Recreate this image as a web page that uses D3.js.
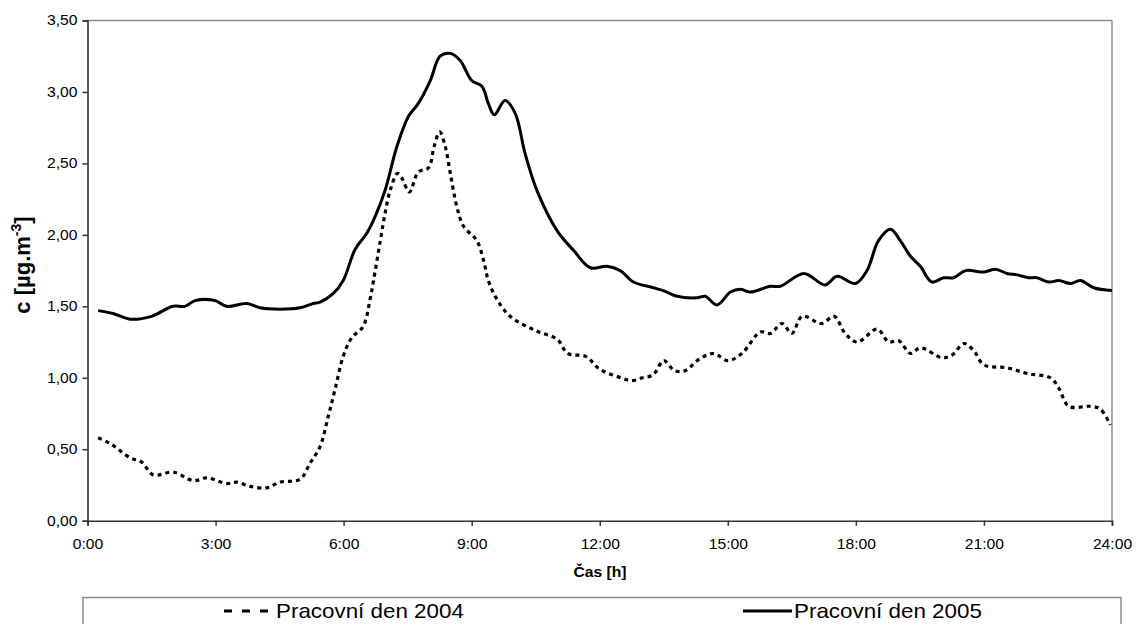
<!DOCTYPE html>
<html lang="cs">
<head>
<meta charset="utf-8">
<script src="https://d3js.org/d3.v7.min.js"></script>
<style>
  body { margin: 0; background: #fff; }
  text { font-family: "Liberation Sans", Arial, sans-serif; }
</style>
</head>
<body>
<script>
// hodiny (h) a koncentrace c [ug.m-3]
var hours2005 = [0.25, 0.6, 1.0, 1.5, 2.0, 2.28, 2.52, 2.99, 3.26, 3.73, 4.04, 4.51, 4.98, 5.29, 5.45, 5.76, 5.99, 6.27, 6.54, 6.74, 6.97, 7.25, 7.52, 7.75, 8.03, 8.26, 8.50, 8.73, 9.0, 9.24, 9.39, 9.53, 9.78, 10.02, 10.25, 10.53, 11.0, 11.39, 11.78, 12.17, 12.48, 12.79, 13.26, 13.57, 13.81, 14.28, 14.47, 14.75, 15.06, 15.29, 15.53, 16.0, 16.23, 16.78, 17.28, 17.56, 17.99, 18.26, 18.53, 18.81, 19.04, 19.28, 19.51, 19.78, 20.06, 20.29, 20.57, 21.0, 21.27, 21.54, 21.78, 22.05, 22.24, 22.52, 22.75, 23.03, 23.26, 23.57, 24.0];
var values2005 = [1.47, 1.45, 1.41, 1.43, 1.50, 1.50, 1.54, 1.54, 1.50, 1.52, 1.49, 1.48, 1.49, 1.52, 1.53, 1.59, 1.68, 1.90, 2.01, 2.13, 2.31, 2.62, 2.83, 2.92, 3.08, 3.25, 3.27, 3.22, 3.08, 3.04, 2.92, 2.84, 2.94, 2.85, 2.57, 2.31, 2.03, 1.89, 1.77, 1.78, 1.75, 1.67, 1.63, 1.60, 1.57, 1.56, 1.57, 1.51, 1.60, 1.62, 1.60, 1.64, 1.64, 1.73, 1.65, 1.71, 1.66, 1.75, 1.96, 2.04, 1.96, 1.85, 1.78, 1.67, 1.70, 1.70, 1.75, 1.74, 1.76, 1.73, 1.72, 1.70, 1.70, 1.67, 1.68, 1.66, 1.68, 1.63, 1.61];

var hours2004 = [0.25, 0.53, 1.0, 1.27, 1.54, 2.01, 2.48, 2.79, 3.26, 3.50, 3.81, 4.20, 4.51, 4.98, 5.21, 5.45, 5.64, 5.80, 5.99, 6.19, 6.46, 6.62, 6.70, 6.86, 6.97, 7.09, 7.26, 7.36, 7.54, 7.75, 7.99, 8.12, 8.25, 8.38, 8.50, 8.65, 8.81, 9.12, 9.28, 9.39, 9.59, 9.90, 10.5, 11.0, 11.25, 11.67, 12.0, 12.5, 12.75, 13.0, 13.25, 13.5, 13.75, 14.0, 14.33, 14.67, 15.0, 15.33, 15.76, 16.0, 16.27, 16.50, 16.74, 17.20, 17.49, 17.75, 18.03, 18.50, 18.77, 19.0, 19.28, 19.51, 20.02, 20.26, 20.53, 20.76, 21.0, 21.54, 22.01, 22.56, 22.75, 22.99, 23.50, 23.73, 23.96];
var values2004 = [0.58, 0.54, 0.44, 0.41, 0.32, 0.34, 0.28, 0.30, 0.26, 0.27, 0.24, 0.23, 0.27, 0.29, 0.40, 0.52, 0.73, 0.92, 1.15, 1.28, 1.36, 1.55, 1.68, 1.96, 2.15, 2.31, 2.43, 2.40, 2.30, 2.44, 2.47, 2.62, 2.72, 2.62, 2.43, 2.20, 2.06, 1.96, 1.82, 1.68, 1.55, 1.43, 1.33, 1.27, 1.17, 1.15, 1.06, 1.00, 0.98, 1.00, 1.02, 1.12, 1.05, 1.05, 1.13, 1.17, 1.12, 1.17, 1.32, 1.31, 1.38, 1.31, 1.43, 1.38, 1.43, 1.31, 1.25, 1.34, 1.25, 1.26, 1.17, 1.21, 1.14, 1.16, 1.24, 1.19, 1.09, 1.07, 1.03, 1.00, 0.93, 0.80, 0.80, 0.78, 0.67];

var xTicks = [0, 3, 6, 9, 12, 15, 18, 21, 24];
var yTicks = [0, 0.5, 1, 1.5, 2, 2.5, 3, 3.5];
var seriesNames = ["Pracovní den 2004", "Pracovní den 2005"];

var W = 1136, H = 624;
var plotLeft = 87.5, plotRight = 1112, plotTop = 20.5, plotBottom = 520.7;
var sx = 1.12; // vodorovne roztazeni pisma

var svg = d3.select("body").append("svg").attr("width", W).attr("height", H);

var x = d3.scaleLinear().domain([0, 24]).range([plotLeft, plotRight]);
var y = d3.scaleLinear().domain([0, 3.5]).range([plotBottom, plotTop]);

// ramecek grafu (horni a prava hrana sediva)
svg.append("line").attr("x1", plotLeft).attr("x2", plotRight).attr("y1", plotTop).attr("y2", plotTop)
  .attr("stroke", "#8c8c8c").attr("stroke-width", 1.5);
svg.append("line").attr("x1", plotRight).attr("x2", plotRight).attr("y1", plotTop).attr("y2", plotBottom)
  .attr("stroke", "#8c8c8c").attr("stroke-width", 1.5);

var yAxis = svg.append("g").attr("transform", "translate(" + plotLeft + ",0)")
  .call(d3.axisLeft(y).tickValues(yTicks).tickSize(5).tickPadding(0)
    .tickFormat(function(d) { return d3.format(".2f")(d).replace(".", ","); }));
yAxis.selectAll("text").attr("x", -10 / sx).attr("transform", "scale(" + sx + ",1)")
  .attr("font-size", 14).attr("fill", "#000").attr("font-family", "Liberation Sans, Arial, sans-serif");

var xAxis = svg.append("g").attr("transform", "translate(0," + plotBottom + ")")
  .call(d3.axisBottom(x).tickValues(xTicks).tickSize(5).tickPadding(0)
    .tickFormat(function(d) { return d + ":00"; }));
xAxis.selectAll("text").attr("y", 0).attr("dy", 0).attr("transform", "translate(0,28) scale(" + sx + ",1)")
  .attr("font-size", 14).attr("fill", "#000").attr("font-family", "Liberation Sans, Arial, sans-serif");

svg.selectAll(".domain").attr("stroke", "#333").attr("stroke-width", 1.6);
svg.selectAll(".tick line").attr("stroke", "#333").attr("stroke-width", 1.5);

// osy - popisky
svg.append("text").attr("transform", "translate(600,577) scale(" + sx + ",1)")
  .attr("text-anchor", "middle").attr("font-size", 14).attr("font-weight", "bold").text("Čas [h]");

var yl = svg.append("text").attr("transform", "translate(30,265) rotate(-90)")
  .attr("text-anchor", "middle").attr("font-size", 22).attr("font-weight", "bold");
yl.append("tspan").text("c [µg.m");
yl.append("tspan").attr("dy", -9).attr("font-size", 14).text("-3");
yl.append("tspan").attr("dy", 9).text("]");

// cary
var line = d3.line().x(function(d) { return x(d[0]); }).y(function(d) { return y(d[1]); })
  .curve(d3.curveCatmullRom.alpha(0.5));

svg.append("path").datum(d3.zip(hours2004, values2004)).attr("d", line)
  .attr("fill", "none").attr("stroke", "#000").attr("stroke-width", 3.2)
  .attr("stroke-dasharray", "4,4");
svg.append("path").datum(d3.zip(hours2005, values2005)).attr("d", line)
  .attr("fill", "none").attr("stroke", "#000").attr("stroke-width", 3)
  .attr("stroke-linejoin", "round");

// legenda
svg.append("rect").attr("x", 83).attr("y", 597.5).attr("width", 1038).attr("height", 40)
  .attr("fill", "#fff").attr("stroke", "#8c8c8c").attr("stroke-width", 1.5);

var legX = [224, 743];
var legDash = ["8,10", null];
seriesNames.forEach(function(name, i) {
  svg.append("line").attr("x1", legX[i]).attr("x2", legX[i] + (i === 0 ? 44 : 49))
    .attr("y1", 611).attr("y2", 611).attr("stroke", "#000").attr("stroke-width", 3)
    .attr("stroke-dasharray", legDash[i]);
  svg.append("text").attr("transform", "translate(" + (legX[i] + (i === 0 ? 52 : 51)) + ",618) scale(" + sx + ",1)")
    .attr("font-size", 20).text(name);
});
</script>
</body>
</html>
